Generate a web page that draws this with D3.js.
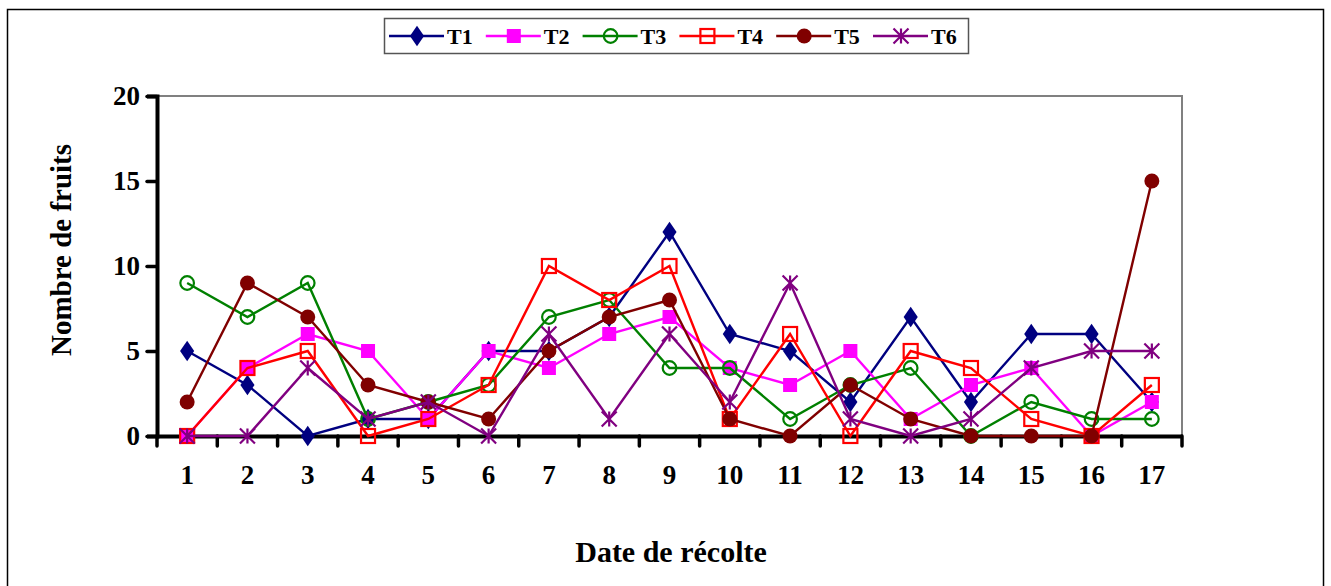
<!DOCTYPE html>
<html><head><meta charset="utf-8">
<script src="https://cdn.jsdelivr.net/npm/d3@7"></script>
<style>body{margin:0;background:#fff}svg{display:block}text{font-family:"Liberation Serif","Times New Roman",serif;font-weight:bold}</style>
</head><body>
<script>
const categories = [1,2,3,4,5,6,7,8,9,10,11,12,13,14,15,16,17];
const T1 = [5,3,0,1,1,5,5,7,12,6,5,2,7,2,6,6,2];
const T2 = [0,4,6,5,1,5,4,6,7,4,3,5,1,3,4,0,2];
const T3 = [9,7,9,1,2,3,7,8,4,4,1,3,4,0,2,1,1];
const T4 = [0,4,5,0,1,3,10,8,10,1,6,0,5,4,1,0,3];
const T5 = [2,9,7,3,2,1,5,7,8,1,0,3,1,0,0,0,15];
const T6 = [0,0,4,1,2,0,6,1,6,2,9,1,0,1,4,5,5];
const seriesNames = ["T1","T2","T3","T4","T5","T6"];
const yTicks = [0,5,10,15,20];
const xTitle = "Date de récolte";
const yTitle = "Nombre de fruits";

const series = [
  {name:"T1", values:T1, color:"#000080", marker:"diamond", fill:"#000080"},
  {name:"T2", values:T2, color:"#FF00FF", marker:"square", fill:"#FF00FF"},
  {name:"T3", values:T3, color:"#008000", marker:"circle", fill:"none"},
  {name:"T4", values:T4, color:"#FF0000", marker:"square", fill:"none"},
  {name:"T5", values:T5, color:"#800000", marker:"circle", fill:"#800000"},
  {name:"T6", values:T6, color:"#800080", marker:"star", fill:"none"}
];

const W = 1331, H = 586;
const svg = d3.select("body").append("svg").attr("width", W).attr("height", H);

// outer frame
svg.append("rect").attr("x",7.5).attr("y",9.5).attr("width",1316).attr("height",620)
  .attr("fill","none").attr("stroke","#000").attr("stroke-width",1.5);

const pL = 157, pR = 1182, pT = 96, pB = 436;
const x = d3.scaleBand().domain(categories).range([pL, pR]).padding(0);
const cx = d => x(d) + x.bandwidth()/2;
const y = d3.scaleLinear().domain([0,20]).range([pB, pT]);

// plot area border (gray top/right)
svg.append("path").attr("d", `M${pL},${pT}H${pR}V${pB}`)
  .attr("fill","none").attr("stroke","#808080").attr("stroke-width",2);

// Y axis
const yAxis = svg.append("g").attr("transform",`translate(${pL},0)`)
  .call(d3.axisLeft(y).tickValues(yTicks).tickSize(10).tickPadding(7));
yAxis.select(".domain").attr("stroke","#000").attr("stroke-width",4);
yAxis.selectAll(".tick line").attr("stroke","#000").attr("stroke-width",3.5).attr("stroke-linecap","round");
yAxis.selectAll("text").attr("font-size",27).attr("fill","#000").style("font-family","Liberation Serif").style("font-weight","bold");

// X axis
const xAxis = svg.append("g").attr("transform",`translate(0,${pB})`)
  .call(d3.axisBottom(x).tickSize(0).tickPadding(29));
xAxis.select(".domain").attr("stroke","#000").attr("stroke-width",4);
xAxis.selectAll("text").attr("font-size",27).attr("fill","#000").style("font-family","Liberation Serif").style("font-weight","bold");
const bounds = categories.map(c => x(c)).concat([pR]);
svg.append("g").selectAll("line").data(bounds).join("line")
  .attr("x1",d=>d).attr("x2",d=>d).attr("y1",pB).attr("y2",pB+10)
  .attr("stroke","#000").attr("stroke-width",3.5).attr("stroke-linecap","round");

// titles
svg.append("text").attr("x",671).attr("y",562).attr("text-anchor","middle")
  .attr("font-size",30).text(xTitle);
svg.append("text").attr("transform","translate(71,250) rotate(-90)").attr("text-anchor","middle")
  .attr("font-size",29).text(yTitle);

function drawMarker(g, s, px, py, scale) {
  scale = scale || 1;
  if (s.marker === "diamond") {
    g.append("path").attr("d", d3.symbol(d3.symbolDiamond, 120*scale*scale)())
      .attr("transform",`translate(${px},${py}) scale(1.2,1)`).attr("fill", s.fill);
  } else if (s.marker === "square") {
    const a = 14*scale;
    g.append("rect").attr("x",px-a/2).attr("y",py-a/2).attr("width",a).attr("height",a)
      .attr("fill", s.fill).attr("stroke", s.color).attr("stroke-width", s.fill==="none"?2.2:0);
  } else if (s.marker === "circle") {
    const r = (s.fill==="none"?6.8:7.5)*scale;
    g.append("circle").attr("cx",px).attr("cy",py).attr("r",r)
      .attr("fill", s.fill).attr("stroke", s.color).attr("stroke-width", s.fill==="none"?2.2:0);
  } else if (s.marker === "star") {
    const r = 7.5*scale;
    g.append("path").attr("d",`M${px},${py-r}V${py+r}M${px-r},${py-r}L${px+r},${py+r}M${px-r},${py+r}L${px+r},${py-r}`)
      .attr("stroke", s.color).attr("stroke-width",2.2).attr("fill","none");
  }
}

const line = d3.line().x((d,i)=>cx(categories[i])).y(d=>y(d));
series.forEach(s => {
  const g = svg.append("g");
  g.append("path").attr("d", line(s.values)).attr("fill","none")
    .attr("stroke", s.color).attr("stroke-width",2.4);
  s.values.forEach((v,i) => drawMarker(g, s, cx(categories[i]), y(v)));
});

// legend
const lg = svg.append("g");
lg.append("rect").attr("x",384.5).attr("y",18.5).attr("width",584).attr("height",35)
  .attr("fill","#fff").attr("stroke","#555").attr("stroke-width",1.5);
series.forEach((s,i) => {
  const x0 = 389 + i*96.8;
  const g = lg.append("g");
  g.append("line").attr("x1",x0).attr("x2",x0+55).attr("y1",36).attr("y2",36)
    .attr("stroke",s.color).attr("stroke-width",2.4);
  drawMarker(g, s, x0+28, 36);
  g.append("text").attr("x",x0+58).attr("y",44).attr("font-size",22).text(s.name);
});
</script>
</body></html>
